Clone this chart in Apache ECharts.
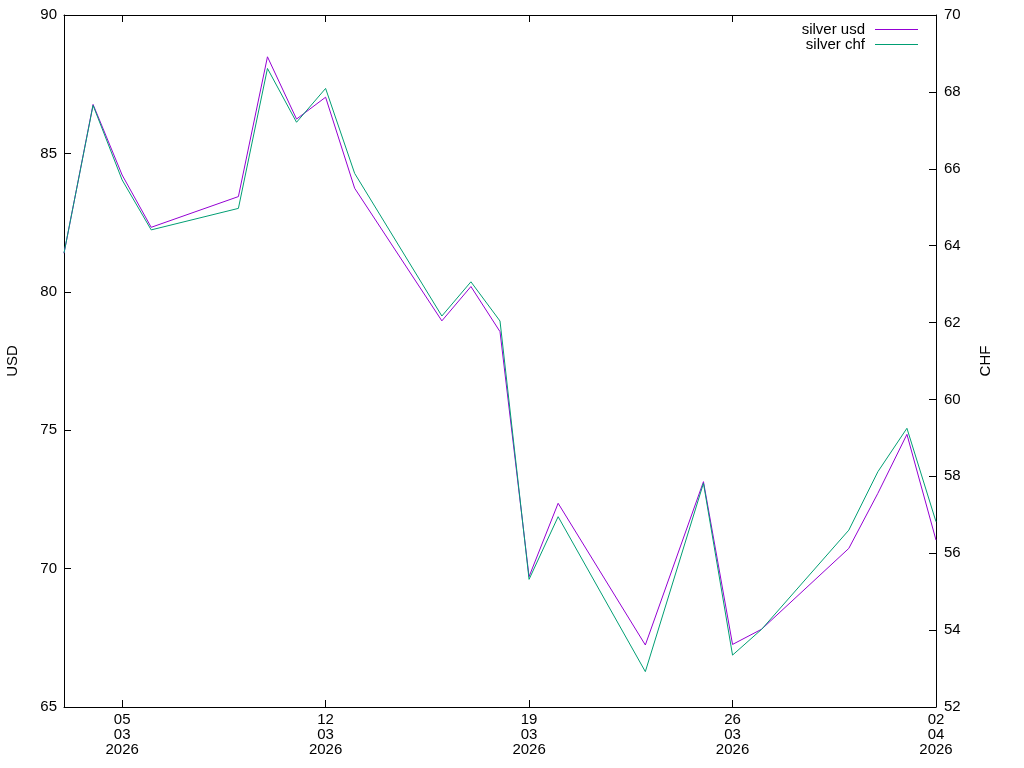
<!DOCTYPE html>
<html>
<head>
<meta charset="utf-8">
<script src="https://cdn.jsdelivr.net/npm/echarts@6/dist/echarts.min.js"></script>
<style>html,body{margin:0;padding:0;background:#fff;}#c{width:1024px;height:768px;}</style>
</head>
<body>
<div id="c"></div>
<script>
var dates = ['2026-03-03','2026-03-04','2026-03-05','2026-03-06','2026-03-09','2026-03-10','2026-03-11','2026-03-12','2026-03-13','2026-03-16','2026-03-17','2026-03-18','2026-03-19','2026-03-20','2026-03-23','2026-03-25','2026-03-26','2026-03-27','2026-03-30','2026-03-31','2026-04-01','2026-04-02'];
var usd = [81.39,86.77,84.22,82.33,83.44,88.49,86.24,87.03,83.74,78.95,80.19,78.56,69.71,72.36,67.24,73.14,67.26,67.81,70.73,72.72,74.85,71.03];
var chf = [63.81,67.65,65.71,64.41,64.97,68.61,67.21,68.09,65.88,62.17,63.06,62.04,55.32,56.95,52.92,57.82,53.35,54.02,56.60,58.12,59.25,56.82];
var tickDates = ['2026-03-05','2026-03-12','2026-03-19','2026-03-26','2026-04-02'];
var xMin = '2026-03-03', xMax = '2026-04-02';

function ts(s){ var p = s.split('-'); return new Date(+p[0], +p[1]-1, +p[2]).getTime(); }
function pad(n){ return (n<10?'0':'')+n; }
var tickTs = tickDates.map(ts);
var font = '"Liberation Sans", Arial, sans-serif';

var chart = echarts.init(document.getElementById('c'));
function xAxisDef(pos, showLabel){
  return {
    type: 'value', min: ts(xMin), max: ts(xMax), position: pos,
    splitLine: {show:false},
    axisLine: {show:true, onZero:false, lineStyle:{color:'#000', width:1}},
    axisTick: {show:true, inside:true, length:7, lineStyle:{color:'#000'}, customValues: tickTs},
    axisLabel: {show: showLabel, customValues: tickTs, fontFamily:font, fontSize:15, color:'#000', lineHeight:15, margin:5,
      formatter:function(v){ var d=new Date(v); return pad(d.getDate())+'\n'+pad(d.getMonth()+1)+'\n'+d.getFullYear(); }}
  };
}
chart.setOption({
  animation: false,
  textStyle: {fontFamily: font},
  grid: {left:64, right:88, top:15, bottom:61, containLabel:false, outerBoundsMode:'none'},
  legend: [
    {data:['silver usd'], right:106, top:22, padding:0, orient:'vertical', align:'right',
     icon:'rect', itemWidth:43, itemHeight:1,
     textStyle:{fontFamily:font, fontSize:15, color:'#000', padding:[0,5,0,0]}},
    {data:['silver chf'], right:106, top:37, padding:0, orient:'vertical', align:'right',
     icon:'rect', itemWidth:43, itemHeight:1,
     textStyle:{fontFamily:font, fontSize:15, color:'#000', padding:[0,5,0,0]}}
  ],
  xAxis: [ xAxisDef('bottom', true), xAxisDef('top', false) ],
  yAxis: [
    {type:'value', min:65, max:90, interval:5, position:'left',
     name:'USD', nameLocation:'middle', nameRotate:90, nameGap:44,
     nameTextStyle:{fontFamily:font, fontSize:15, color:'#000'},
     splitLine:{show:false},
     axisLine:{show:true, onZero:false, lineStyle:{color:'#000'}},
     axisTick:{show:true, inside:true, length:7, lineStyle:{color:'#000'}},
     axisLabel:{fontFamily:font, fontSize:15, color:'#000', margin:7}},
    {type:'value', min:52, max:70, interval:2, position:'right',
     name:'CHF', nameLocation:'middle', nameRotate:90, nameGap:42,
     nameTextStyle:{fontFamily:font, fontSize:15, color:'#000'},
     splitLine:{show:false},
     axisLine:{show:true, onZero:false, lineStyle:{color:'#000'}},
     axisTick:{show:true, inside:true, length:7, lineStyle:{color:'#000'}},
     axisLabel:{fontFamily:font, fontSize:15, color:'#000', margin:8}}
  ],
  series: [
    {name:'silver usd', type:'line', xAxisIndex:0, yAxisIndex:0, showSymbol:false, symbol:'none',
     color:'#9400D3', lineStyle:{width:1, color:'#9400D3'},
     data: dates.map(function(d,i){ return [ts(d), usd[i]]; })},
    {name:'silver chf', type:'line', xAxisIndex:0, yAxisIndex:1, showSymbol:false, symbol:'none',
     color:'#009E73', lineStyle:{width:1, color:'#009E73'},
     data: dates.map(function(d,i){ return [ts(d), chf[i]]; })}
  ]
});
</script>
</body>
</html>
